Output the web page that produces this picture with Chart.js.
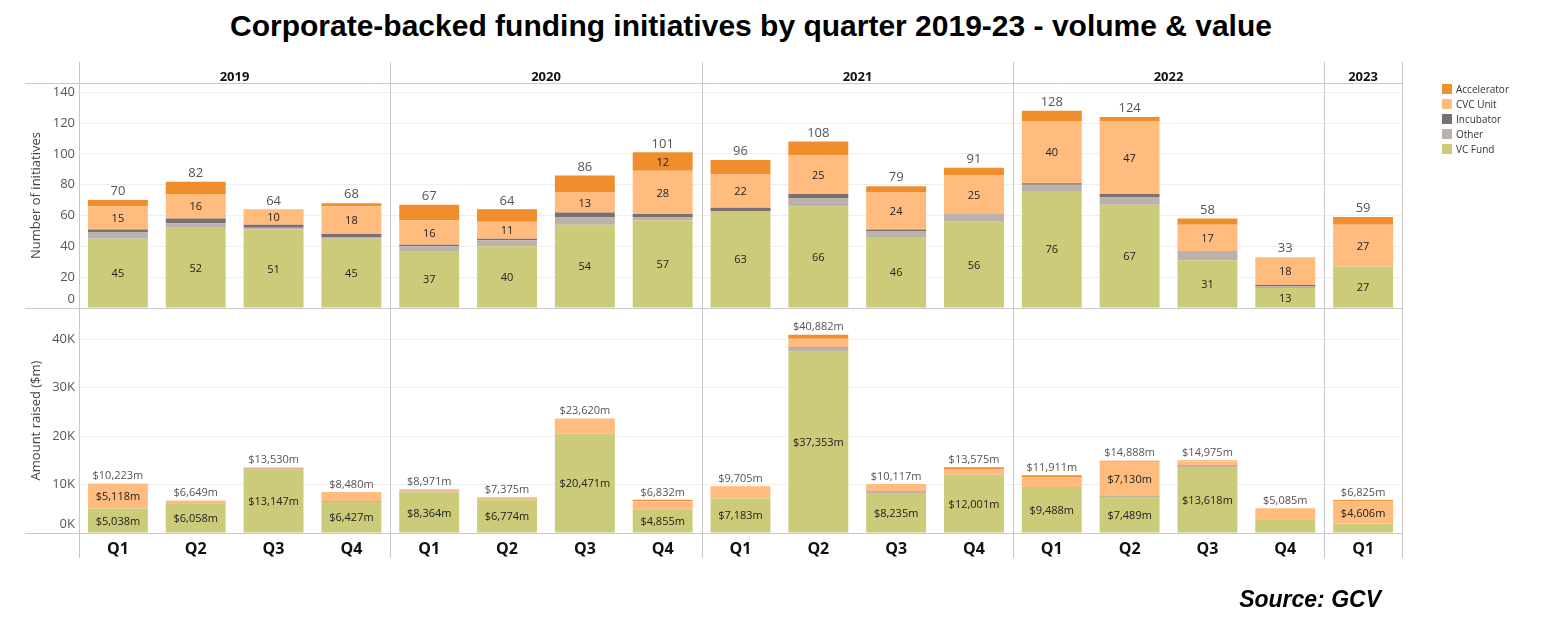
<!DOCTYPE html>
<html><head><meta charset="utf-8">
<script src="https://cdn.jsdelivr.net/npm/chart.js@4/dist/chart.umd.min.js"></script>
<style>
html,body{margin:0;padding:0;background:#fff}
body{width:1562px;height:644px;overflow:hidden;position:relative;font-family:"Open Sans",sans-serif}
#title{position:absolute;left:0;width:1502px;top:9px;text-align:center;font:bold 30px "Liberation Sans",Arial,sans-serif;color:#000;white-space:nowrap}
canvas{position:absolute;left:0;top:0}
#legend{position:absolute;left:1442px;top:83px;font:10px "Open Sans",sans-serif;color:#333}
#legend div{height:15px;line-height:12px;white-space:nowrap}
#legend span{display:inline-block;width:10px;height:10px;vertical-align:-1px;margin-right:4px}
#source{position:absolute;right:181px;top:586px;font:italic bold 23px "Liberation Sans",Arial,sans-serif;color:#000}
</style></head>
<body>
<div id="title">Corporate-backed funding initiatives by quarter 2019-23 - volume &amp; value</div>
<canvas id="top" width="1562" height="644"></canvas>
<canvas id="bottom" width="1562" height="644"></canvas>
<div id="legend"></div>
<div id="source">Source: GCV</div>
<script>
// ---- categories ----
const quarters = ['Q1','Q2','Q3','Q4','Q1','Q2','Q3','Q4','Q1','Q2','Q3','Q4','Q1','Q2','Q3','Q4','Q1'];
const yearNames = ['2019','2020','2021','2022','2023'];
const quartersPerYear = [4,4,4,4,1];
const seriesNames = ['VC Fund','Other','Incubator','CVC Unit','Accelerator'];
const legendOrder = ['Accelerator','CVC Unit','Incubator','Other','VC Fund'];

// ---- volume (number of initiatives) ----
const volVC    = [45,52,51,45, 37,40,54,57, 63,66,46,56, 76,67,31,13, 27];
const volOther = [4,3,1,1, 3,4,5,2, 0,5,4,5, 4,5,6,1, 0];
const volInc   = [2,3,2,2, 1,1,3,2, 2,3,1,0, 1,2,0,1, 0];
const volCVC   = [15,16,10,18, 16,11,13,28, 22,25,24,25, 40,47,17,18, 27];
const volAcc   = [4,8,0,2, 10,8,11,12, 9,9,4,5, 7,3,4,0, 5];
const volTotal = [70,82,64,68, 67,64,86,101, 96,108,79,91, 128,124,58,33, 59];

// ---- value (amount raised, $m) ----
const valVC    = [5038,6058,13147,6427, 8364,6774,20471,4855, 7183,37353,8235,12001, 9488,7489,13618,2700, 1950];
const valOther = [40,0,0,0, 100,41,49,47, 0,700,450,0, 0,0,400,0, 0];
const valInc   = [0,100,80,100, 0,0,0,0, 0,200,0,0, 0,100,0,0, 0];
const valCVC   = [5118,420,230,1953, 300,560,3100,1650, 2480,1800,1330,1200, 1980,7130,760,2385, 4606];
const valAcc   = [27,71,73,0, 207,0,0,280, 42,829,102,374, 443,169,197,0, 269];
const valTotal = [10223,6649,13530,8480, 8971,7375,23620,6832, 9705,40882,10117,13575, 11911,14888,14975,5085, 6825];

// ---- tick values ----
const volTickValues = [0,20,40,60,80,100,120,140];
const valTickValues = [0,10000,20000,30000,40000];
const volRange = {min:0, max:146};
const valRange = {min:0, max:46400};

const colors = {'Accelerator':'#F08E2E','CVC Unit':'#FFBC7E','Incubator':'#7A706F','Other':'#BBB1AD','VC Fund':'#CCCB7A'};
const FONT = '"Open Sans", sans-serif';

function fmtMoney(v){ return '$' + v.toLocaleString('en-US') + 'm'; }

// legend
const lg = document.getElementById('legend');
legendOrder.forEach(n=>{
  const d=document.createElement('div');
  d.innerHTML='<span style="background:'+colors[n]+'"></span>'+n;
  lg.appendChild(d);
});

function makeDatasets(arrs){
  return seriesNames.map((n,i)=>({label:n, data:arrs[i], backgroundColor:colors[n], borderWidth:0,
    barPercentage:0.77, categoryPercentage:1.0, stack:'s'}));
}

const segLabels = {
  id:'segLabels',
  afterDatasetsDraw(chart, args, opts){
    const ctx = chart.ctx;
    const ys = chart.scales.y, xs = chart.scales.x;
    const fmt = v => opts.money ? fmtMoney(v) : String(v);
    ctx.save();
    ctx.textAlign='center';
    chart.data.datasets.forEach((ds,i)=>{
      const min = opts.mins[ds.label];
      if(min===undefined) return;
      const meta = chart.getDatasetMeta(i);
      meta.data.forEach((bar,j)=>{
        const v = ds.data[j];
        if(!(v>=min) || v<=0) return;
        ctx.font = opts.segFont; ctx.fillStyle='#222'; ctx.textBaseline='middle';
        ctx.fillText(fmt(v), bar.x, (bar.y+bar.base)/2 + 1);
      });
    });
    const totals = opts.money ? valTotal : volTotal;
    totals.forEach((t,j)=>{
      ctx.font = opts.totFont; ctx.fillStyle='#555'; ctx.textBaseline='bottom';
      ctx.fillText(fmt(t), xs.getPixelForValue(j), ys.getPixelForValue(t) - 2);
    });
    ctx.restore();
  }
};

const frame = {
  id:'frame',
  afterDraw(chart, args, opts){
    const ctx = chart.ctx, ca = chart.chartArea, xs = chart.scales.x, ys = chart.scales.y;
    const half = (xs.getPixelForValue(1)-xs.getPixelForValue(0))/2;
    ctx.save();
    ctx.strokeStyle='#c8c8c8'; ctx.lineWidth=1;
    const bounds=[ca.left]; let idx=0;
    quartersPerYear.forEach(c=>{ idx+=c; bounds.push(Math.round(xs.getPixelForValue(idx-1)+half)); });
    const y0 = opts.isTop ? ca.top-21 : ca.top, y1 = opts.isTop ? ca.bottom : ca.bottom+25;
    bounds.forEach(b=>{ ctx.beginPath(); ctx.moveTo(Math.round(b)+0.5,y0); ctx.lineTo(Math.round(b)+0.5,y1); ctx.stroke(); });
    const hl = y=>{ ctx.beginPath(); ctx.moveTo(25,Math.round(y)+0.5); ctx.lineTo(ca.right,Math.round(y)+0.5); ctx.stroke(); };
    if(opts.isTop){ hl(ca.top); hl(ca.bottom); } else { hl(ca.bottom); }
    if(opts.isTop){
      ctx.fillStyle='#111'; ctx.font='bold 13px '+FONT; ctx.textAlign='center'; ctx.textBaseline='middle';
      yearNames.forEach((y,i)=>{ ctx.fillText(y,(bounds[i]+bounds[i+1])/2, ca.top-6); });
    }
    ctx.fillStyle='#555'; ctx.font='13px '+FONT; ctx.textAlign='right'; ctx.textBaseline='middle';
    ctx.fillText(opts.zeroText, ca.left-4, ys.getPixelForValue(0)-9);
    ctx.restore();
  }
};

function yScale(range, tickValues, title, fmt){
  return {
    min:range.min, max:range.max, stacked:true,
    afterBuildTicks:s=>{ s.ticks = tickValues.map(v=>({value:v})); },
    ticks:{padding:4, color:'#555', font:{size:13,family:FONT},
      callback:v=> v===0 ? '' : fmt(v)},
    grid:{color:'#eeeeee', drawTicks:false},
    border:{display:false},
    title:{display:true, text:title, color:'#444', font:{size:13,family:FONT}, padding:{top:0,bottom:0}},
    afterFit:s=>{ s.width=51; }
  };
}

Chart.defaults.font.family = FONT;

new Chart(document.getElementById('top'), {
  type:'bar',
  data:{labels:quarters, datasets:makeDatasets([volVC,volOther,volInc,volCVC,volAcc])},
  options:{
    responsive:false, animation:false, events:[],
    layout:{padding:{left:28,right:160,top:83,bottom:336}},
    scales:{
      x:{display:false, stacked:true, grid:{display:false}},
      y:yScale(volRange, volTickValues, 'Number of initiatives', v=>String(v))
    },
    plugins:{legend:{display:false}, tooltip:{enabled:false},
      segLabels:{money:false, mins:{'VC Fund':1,'CVC Unit':1,'Accelerator':12}, segFont:'11px '+FONT, totFont:'13px '+FONT},
      frame:{isTop:true, zeroText:'0'}}
  },
  plugins:[segLabels, frame]
});

new Chart(document.getElementById('bottom'), {
  type:'bar',
  data:{labels:quarters, datasets:makeDatasets([valVC,valOther,valInc,valCVC,valAcc])},
  options:{
    responsive:false, animation:false, events:[],
    layout:{padding:{left:28,right:160,top:308,bottom:81}},
    scales:{
      x:{stacked:true, grid:{display:false, drawTicks:false}, border:{display:false},
         ticks:{padding:7, color:'#111', font:{size:16, weight:'bold', family:FONT}, maxRotation:0, autoSkip:false},
         afterFit:s=>{ s.height=30; }},
      y:yScale(valRange, valTickValues, 'Amount raised ($m)', v=>(v/1000)+'K')
    },
    plugins:{legend:{display:false}, tooltip:{enabled:false},
      segLabels:{money:true, mins:{'VC Fund':4000,'CVC Unit':4000}, segFont:'11px '+FONT, totFont:'11px '+FONT},
      frame:{isTop:false, zeroText:'0K'}}
  },
  plugins:[segLabels, frame]
});
</script>
</body></html>
